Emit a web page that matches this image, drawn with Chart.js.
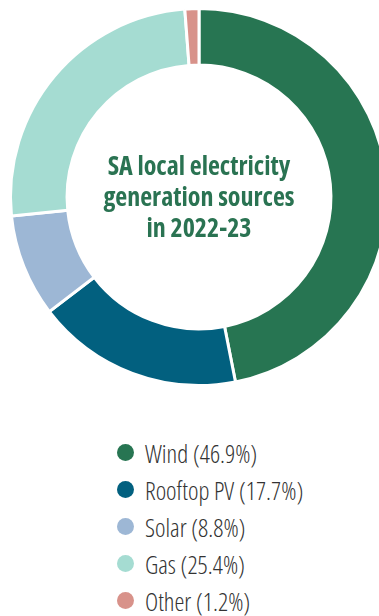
<!DOCTYPE html>
<html>
<head>
<meta charset="utf-8">
<script src="https://cdn.jsdelivr.net/npm/chart.js@4/dist/chart.umd.min.js"></script>
<style>
  html, body { margin:0; padding:0; background:#fff; width:379px; height:616px; overflow:hidden; }
  #wrap { position:absolute; left:0; top:7px; width:398px; height:380px; }
  #center { position:absolute; left:0; width:398px; top:150px; text-align:center;
    font-family:"Open Sans", sans-serif; font-stretch:75%; font-weight:700; font-size:26px;
    line-height:31px; color:#2a7352; }
  #legend { position:absolute; left:117px; top:434px; margin:0; padding:0; list-style:none;
    font-family:"Open Sans", sans-serif; font-stretch:75%; font-weight:300; font-size:25px; color:#333; }
  #legend li { height:37px; display:flex; align-items:center; white-space:nowrap; }
  #legend .dot { width:17px; height:17px; border-radius:50%; margin-right:11px; display:inline-block; flex:none; }
</style>
</head>
<body>
<div id="wrap"><canvas id="c"></canvas></div>
<div id="center"></div>
<ul id="legend"></ul>
<script>
const categories = ["Wind", "Rooftop PV", "Solar", "Gas", "Other"];
const shares = [46.9, 17.7, 8.8, 25.4, 1.2];
const colors = ["#277552", "#02607f", "#9db7d5", "#a5dcd2", "#d8928a"];
const titleLines = ["SA local electricity", "generation sources", "in 2022-23"];

new Chart(document.getElementById("c"), {
  type: "doughnut",
  data: {
    labels: categories,
    datasets: [{
      data: shares,
      backgroundColor: colors,
      borderColor: "#ffffff",
      borderWidth: 3,
      hoverOffset: 0
    }]
  },
  options: {
    responsive: true,
    maintainAspectRatio: false,
    animation: false,
    cutout: "70%",
    layout: { padding: 0 },
    plugins: { legend: { display: false }, tooltip: { enabled: false } }
  }
});

document.getElementById("center").innerHTML = titleLines.map(l => "<div>" + l + "</div>").join("");
const legendList = document.getElementById("legend");
categories.forEach((c, i) => {
  const li = document.createElement("li");
  const dot = document.createElement("span");
  dot.className = "dot";
  dot.style.background = colors[i];
  li.appendChild(dot);
  li.appendChild(document.createTextNode(c + " (" + shares[i].toFixed(1) + "%)"));
  legendList.appendChild(li);
});
</script>
</body>
</html>
